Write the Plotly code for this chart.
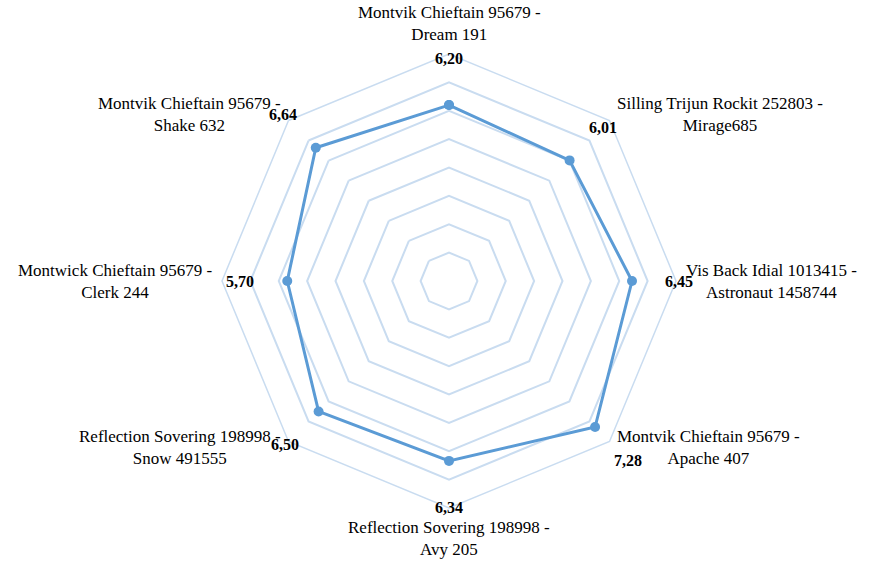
import math
import plotly.graph_objects as go

# Categories, clockwise from the top
categories = [
    "Montvik Chieftain 95679 -<br>Dream 191",
    "Silling Trijun Rockit 252803 -<br>Mirage685",
    "Vis Back Idial 1013415 -<br>Astronaut 1458744",
    "Montvik Chieftain 95679 -<br>Apache 407",
    "Reflection Sovering 198998 -<br>Avy 205",
    "Reflection Sovering 198998 -<br>Snow 491555",
    "Montwick Chieftain 95679 -<br>Clerk 244",
    "Montvik Chieftain 95679 -<br>Shake 632",
]
values = [6.20, 6.01, 6.45, 7.28, 6.34, 6.50, 5.70, 6.64]
value_labels = ["6,20", "6,01", "6,45", "7,28", "6,34", "6,50", "5,70", "6,64"]

W, H = 878, 562
CX, CY, R = 449, 281, 227
R_MAX = 8
LINE = "#5B9BD5"
GRID = "#C9DCF0"
FONT = "Liberation Serif, Times New Roman, serif"

fig = go.Figure()

cats_closed = categories + [categories[0]]
fig.add_trace(go.Scatterpolar(
    r=values + [values[0]],
    theta=cats_closed,
    mode="lines+markers",
    line=dict(color=LINE, width=3),
    marker=dict(color=LINE, size=10),
    hoverinfo="skip",
    showlegend=False,
))

annotations = []
n = len(categories)
for i, (cat, v, lab) in enumerate(zip(categories, values, value_labels)):
    ang = 2 * math.pi * i / n
    s, c = math.sin(ang), math.cos(ang)

    # value label, pushed radially outward from its point
    rv = v * R / R_MAX + 47
    annotations.append(dict(
        x=(CX + rv * s) / W, y=1 - (CY - rv * c) / H, xref="paper", yref="paper",
        text=f"<b>{lab}</b>", showarrow=False, xanchor="center", yanchor="middle",
        font=dict(family=FONT, size=16, color="#000000"),
    ))

    # category label just outside the outer ring
    px = CX + (R + 8) * s
    py = CY - (R + 8) * c
    if abs(s) < 1e-6:
        xa = "center"
        ya = "bottom" if c > 0 else "top"
    else:
        xa = "left" if s > 0 else "right"
        ya = "middle"
    annotations.append(dict(
        x=px / W, y=1 - py / H, xref="paper", yref="paper",
        text=cat, showarrow=False, xanchor=xa, yanchor=ya, align="center",
        font=dict(family=FONT, size=17, color="#000000"),
    ))

fig.update_layout(
    width=W, height=H,
    margin=dict(l=0, r=0, t=0, b=0),
    paper_bgcolor="white",
    plot_bgcolor="white",
    annotations=annotations,
    polar=dict(
        domain=dict(x=[(CX - R) / W, (CX + R) / W], y=[1 - (CY + R) / H, 1 - (CY - R) / H]),
        bgcolor="white",
        gridshape="linear",
        radialaxis=dict(
            range=[0, R_MAX], dtick=1, showticklabels=False, ticks="",
            showline=False, gridcolor=GRID, gridwidth=1.5,
        ),
        angularaxis=dict(
            rotation=90, direction="clockwise", showticklabels=False, ticks="",
            showgrid=False, showline=True, linecolor=GRID, linewidth=1.5,
        ),
    ),
)

fig.write_html("out.html")
